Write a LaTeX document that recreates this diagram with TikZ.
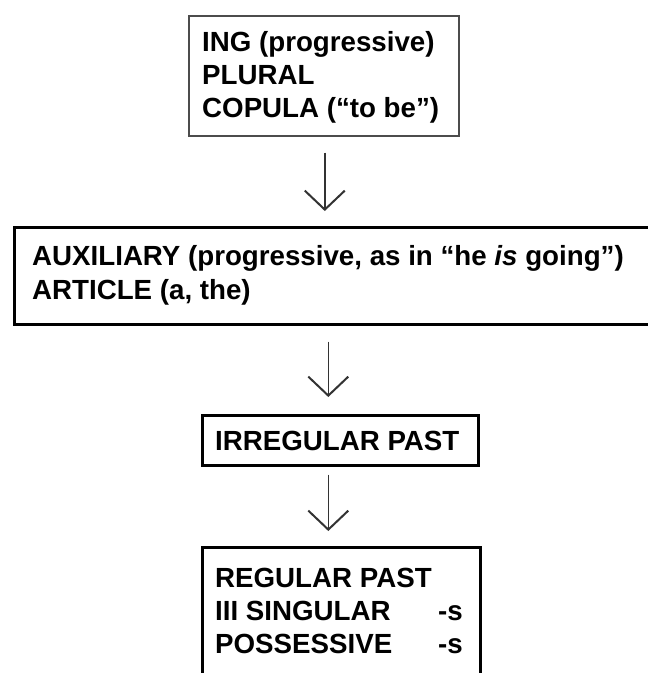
\documentclass[tikz,border=0pt]{standalone}
\usepackage{fontspec}
\setmainfont{Liberation Sans}
\usetikzlibrary{arrows.meta}
\begin{document}
\begin{tikzpicture}[x=1pt,y=-1pt,
  thinbox/.style={draw=black!70, line width=1.6pt, anchor=north west, inner sep=0pt},
  thickbox/.style={draw=black, line width=2.6pt, anchor=north west, inner sep=0pt},
  txt/.style={anchor=base west, inner sep=0pt, font=\bfseries\fontsize{27.7}{33}\selectfont},
  arr/.style={draw=black!80, line width=1.4pt, -{Straight Barb[length=19pt,width=40pt,line width=2pt]}}]
\useasboundingbox (0,0) rectangle (648,673);
\clip (0,0) rectangle (648,673);
\fill[white] (0,0) rectangle (648,673);
% boxes
\node[thinbox, minimum width=270pt, minimum height=120pt] (b1) at (188,15) {};
\node[thickbox, minimum width=650pt, minimum height=97pt] (b2) at (13,226) {};
\node[thickbox, minimum width=276pt, minimum height=50pt] (b3) at (201,414) {};
\node[thickbox, minimum width=278pt, minimum height=150pt] (b4) at (201,546) {};
% texts
\node[txt] (t11) at (202,51) {ING (progressive)};
\node[txt] (t12) at (202,84) {PLURAL};
\node[txt] (t13) at (202,117) {COPULA (“to be”)};
\node[txt] (t21) at (32,265) {AUXILIARY (progressive, as in “he \textit{is} going”)};
\node[txt] (t22) at (32,299) {ARTICLE (a, the)};
\node[txt] (t31) at (215,450) {IRREGULAR PAST};
\node[txt] (t41) at (215,587) {REGULAR PAST};
\node[txt] (t42) at (215,620) {III SINGULAR};
\node[txt] (t43) at (215,653) {POSSESSIVE};
\node[txt] (s42) at (438,620) {-s};
\node[txt] (s43) at (438,653) {-s};
% arrows
\draw[arr, shorten <=16pt, shorten >=15pt] ([xshift=1pt]b1.south) -- ([xshift=1pt]b1.south |- b2.north);
\draw[arr, shorten <=16pt, shorten >=17pt] ([xshift=-12pt]b3.north |- b2.south) -- ([xshift=-12pt]b3.north);
\draw[arr, shorten <=8pt, shorten >=15pt] ([xshift=-12pt]b3.south) -- ([xshift=-12pt]b3.south |- b4.north);
\end{tikzpicture}
\end{document}
